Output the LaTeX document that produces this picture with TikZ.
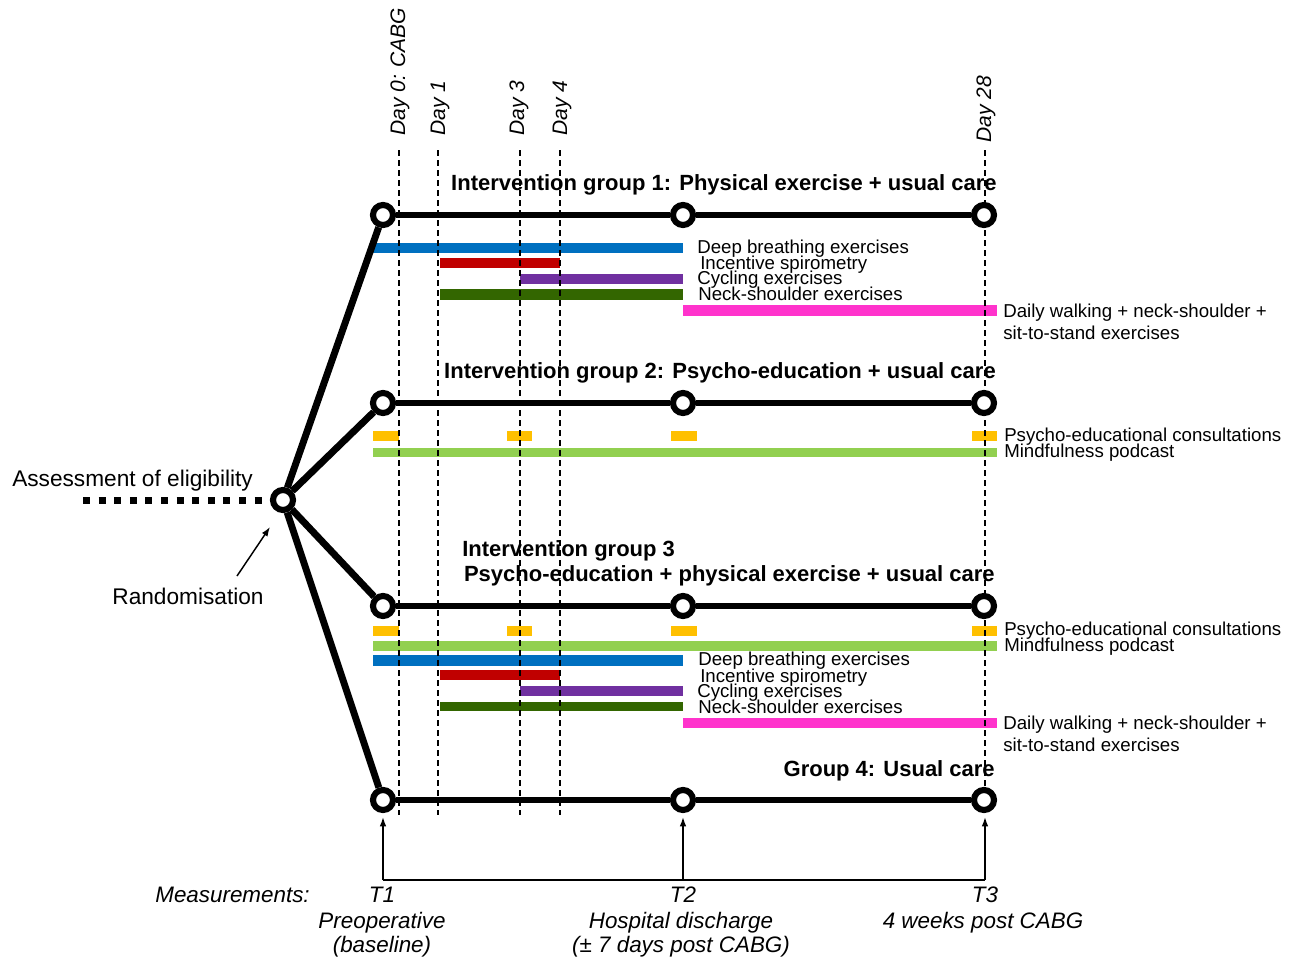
\documentclass[tikz,border=0pt]{standalone}
\usepackage{fontspec}
\setmainfont{Liberation Sans}
\usetikzlibrary{arrows.meta}
\definecolor{cblue}{HTML}{0070C0}
\definecolor{cred}{HTML}{C00000}
\definecolor{cpurple}{HTML}{7030A0}
\definecolor{cdgreen}{HTML}{336600}
\definecolor{cmag}{HTML}{FF33CC}
\definecolor{cyel}{HTML}{FFC000}
\definecolor{clgreen}{HTML}{92D050}
\begin{document}
\begin{tikzpicture}[x=0.75pt,y=-0.75pt,
  ring/.style={circle, draw=black, fill=white, line width=4.6pt, minimum size=15pt, inner sep=0pt},
  arm/.style={line width=5.2pt},
  dayline/.style={line width=1.1pt, dash pattern=on 4.5pt off 3pt},
  lbl/.style={font=\fontsize{14pt}{15pt}\selectfont, anchor=base west, inner sep=0pt},
  ttl/.style={font=\bfseries\fontsize{16.5pt}{18pt}\selectfont, anchor=base east, inner sep=0pt},
  daylbl/.style={font=\itshape\fontsize{15.75pt}{17pt}\selectfont, rotate=90, anchor=west, inner sep=0pt},
  mtxt/.style={font=\itshape\fontsize{16.8pt}{19pt}\selectfont, anchor=base, inner sep=0pt},
  big/.style={font=\fontsize{17pt}{19pt}\selectfont, inner sep=0pt},
  thinln/.style={line width=1.1pt},
]
\useasboundingbox (0,0) rectangle (1307,961);

% ---------- bars group 1
\fill[cblue]   (373,243) rectangle (683,253);
\fill[cred]    (440,258) rectangle (560,268);
\fill[cpurple] (520,274) rectangle (683,284);
\fill[cdgreen] (440,289) rectangle (683,300);
\fill[cmag]    (683,305) rectangle (997,316);
% ---------- bars group 2
\fill[cyel] (373,431) rectangle (399,441);
\fill[cyel] (507,431) rectangle (532,441);
\fill[cyel] (671,431) rectangle (697,441);
\fill[cyel] (972,431) rectangle (997,441);
\fill[clgreen] (373,448) rectangle (997,457);
% ---------- bars group 3
\fill[cyel] (373,626) rectangle (399,636);
\fill[cyel] (507,626) rectangle (532,636);
\fill[cyel] (671,626) rectangle (697,636);
\fill[cyel] (972,626) rectangle (997,636);
\fill[clgreen] (373,641) rectangle (997,651);
\fill[cblue]   (373,655) rectangle (683,666);
\fill[cred]    (440,670) rectangle (560,680);
\fill[cpurple] (520,686) rectangle (683,696);
\fill[cdgreen] (440,702) rectangle (683,711);
\fill[cmag]    (683,718) rectangle (997,728);

% ---------- day lines and labels
\draw[dayline] (399,150) -- (399,815);
\draw[dayline] (438,150) -- (438,815);
\draw[dayline] (520,150) -- (520,815);
\draw[dayline] (560,150) -- (560,815);
\draw[dayline] (985,150) -- (985,795);
\node[daylbl] (d0) at (400,136) {Day 0: CABG};
\node[daylbl] (d1) at (440,136) {Day 1};
\node[daylbl] (d3) at (519,136) {Day 3};
\node[daylbl] (d4) at (562,136) {Day 4};
\node[daylbl] (d28) at (986,143) {Day 28};

% ---------- nodes
\node[ring] (rand) at (283,500) {};
\node[ring] (g1a) at (383,215) {};
\node[ring] (g1b) at (683,215) {};
\node[ring] (g1c) at (984,215) {};
\node[ring] (g2a) at (383,403) {};
\node[ring] (g2b) at (683,403) {};
\node[ring] (g2c) at (984,403) {};
\node[ring] (g3a) at (383,606) {};
\node[ring] (g3b) at (683,606) {};
\node[ring] (g3c) at (984,606) {};
\node[ring] (g4a) at (383,800) {};
\node[ring] (g4b) at (683,800) {};
\node[ring] (g4c) at (984,800) {};

\draw[arm] (rand) -- (g1a);
\draw[arm] (rand) -- (g2a);
\draw[arm] (rand) -- (g3a);
\draw[arm] (rand) -- (g4a);
\draw[arm] (g1a) -- (g1b); \draw[arm] (g1b) -- (g1c);
\draw[arm] (g2a) -- (g2b); \draw[arm] (g2b) -- (g2c);
\draw[arm] (g3a) -- (g3b); \draw[arm] (g3b) -- (g3c);
\draw[arm] (g4a) -- (g4b); \draw[arm] (g4b) -- (g4c);

% eligibility dotted line
\coordinate (elig) at (83,500);
\draw[line width=5.25pt, dash pattern=on 5.25pt off 6.45pt] (elig) -- (rand);
\node[big, anchor=base west] (assess) at (12,486) {Assessment of eligibility};
\node[big, anchor=base] (randtxt) at (188,604) {Randomisation};
\coordinate (rarrS) at (237,576);
\coordinate (rarrE) at (270,527);
\draw[thinln, -{Latex[length=7pt,width=5pt]}] (rarrS) -- (rarrE);

% ---------- titles
\node[ttl] (t1) at (997,190) {Intervention group 1: Physical exercise + usual care};
\node[ttl] (t2) at (996,378) {Intervention group 2: Psycho-education + usual care};
\node[ttl, anchor=base west] (t3a) at (462,556) {Intervention group 3};
\node[ttl] (t3b) at (995,581) {Psycho-education + physical exercise + usual care};
\node[ttl] (t4) at (995,776) {Group 4: Usual care};

% ---------- labels group 1
\node[lbl] (l1a) at (697,253) {Deep breathing exercises};
\node[lbl] (l1b) at (700,269) {Incentive spirometry};
\node[lbl] (l1c) at (697,284) {Cycling exercises};
\node[lbl] (l1d) at (698,300) {Neck-shoulder exercises};
\node[lbl] (l1e) at (1003,317) {Daily walking + neck-shoulder +};
\node[lbl] (l1f) at (1003,339) {sit-to-stand exercises};
% ---------- labels group 2
\node[lbl] (l2a) at (1004,441) {Psycho-educational consultations};
\node[lbl] (l2b) at (1004,457) {Mindfulness podcast};
% ---------- labels group 3
\node[lbl] (l3a) at (1004,635) {Psycho-educational consultations};
\node[lbl] (l3b) at (1004,651) {Mindfulness podcast};
\node[lbl] (l3c) at (698,665) {Deep breathing exercises};
\node[lbl] (l3d) at (700,682) {Incentive spirometry};
\node[lbl] (l3e) at (697,697) {Cycling exercises};
\node[lbl] (l3f) at (698,713) {Neck-shoulder exercises};
\node[lbl] (l3g) at (1003,729) {Daily walking + neck-shoulder +};
\node[lbl] (l3h) at (1003,751) {sit-to-stand exercises};

% ---------- measurements
\coordinate (m1) at (383,880);
\coordinate (m2) at (683,880);
\coordinate (m3) at (985,880);
\draw[thinln] (m1) -- (m3);
\draw[thinln, -{Latex[length=7pt,width=5pt]}, shorten >=3pt] (m1) -- (g4a);
\draw[thinln, -{Latex[length=7pt,width=5pt]}, shorten >=3pt] (m2) -- (g4b);
\draw[thinln, -{Latex[length=7pt,width=5pt]}, shorten >=3pt] (m3) -- (m3 |- g4c.south);
\node[mtxt, anchor=base east] (meas) at (310,902) {Measurements:};
\node[mtxt] (T1) at (382,902) {T1};
\node[mtxt] (T1a) at (382,928) {Preoperative};
\node[mtxt] (T1b) at (382,952) {(baseline)};
\node[mtxt] (T2) at (683,902) {T2};
\node[mtxt] (T2a) at (681,928) {Hospital discharge};
\node[mtxt] (T2b) at (681,952) {(± 7 days post CABG)};
\node[mtxt] (T3) at (985,902) {T3};
\node[mtxt] (T3a) at (983,928) {4 weeks post CABG};
\end{tikzpicture}
\end{document}
